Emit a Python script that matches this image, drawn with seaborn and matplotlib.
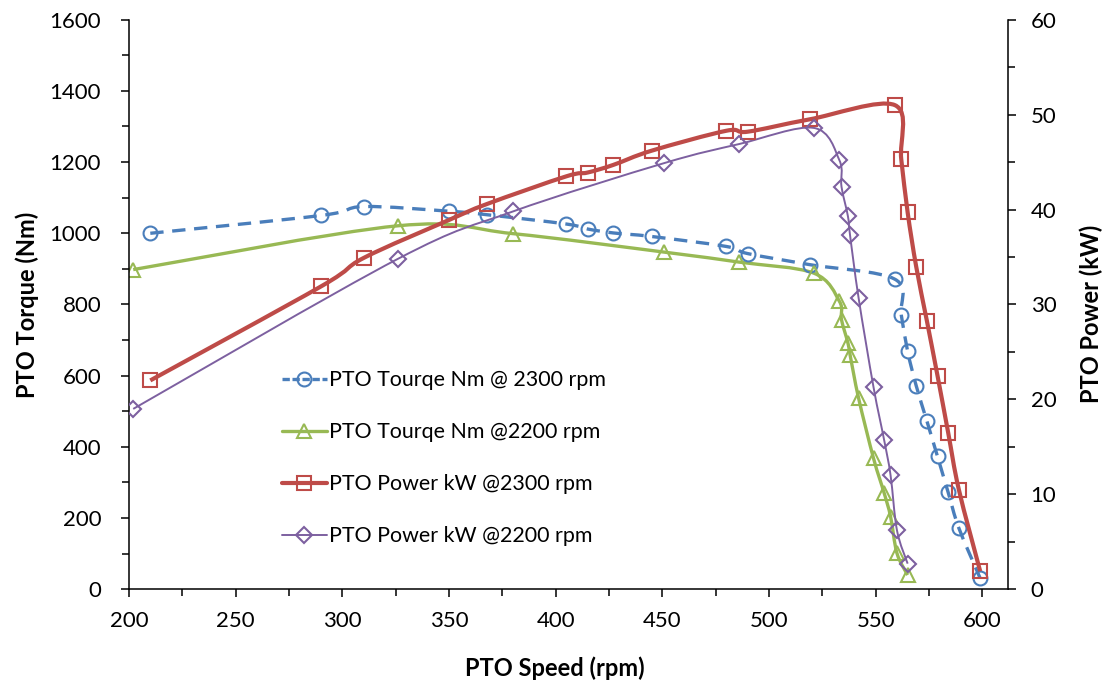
import numpy as np
import pandas as pd
import matplotlib
matplotlib.use("Agg")
import matplotlib.pyplot as plt
import seaborn as sns
from matplotlib.path import Path
from matplotlib.patches import PathPatch
from matplotlib.lines import Line2D
from matplotlib.ticker import MultipleLocator

# ---------------- data ----------------
speed_2300 = [210, 290, 310, 350, 368, 405, 415, 427, 445, 480, 490, 519,
              559, 562, 565, 569, 574, 579, 584, 589, 599]
torque_2300 = [1000, 1050, 1075, 1062, 1052, 1026, 1012, 1001, 991, 963, 943, 912,
               871, 771, 668, 572, 473, 373, 272, 172, 31]
power_2300 = [22.0, 31.9, 34.9, 38.9, 40.6, 43.5, 43.9, 44.7, 46.2, 48.3, 48.2, 49.5,
              51.0, 45.3, 39.7, 34.0, 28.3, 22.5, 16.5, 10.5, 1.9]

speed_2200 = [202, 326, 380, 451, 486, 521, 533, 534, 537, 538, 542, 549,
              554, 557, 560, 565]
torque_2200 = [898, 1021, 999, 947, 919, 888, 809, 757, 692, 659, 537, 368,
               270, 204, 101, 40]
power_2200 = [19.0, 34.8, 39.8, 44.9, 46.9, 48.6, 45.2, 42.4, 39.3, 37.3, 30.7, 21.3,
              15.7, 12.0, 6.2, 2.7]

labels = ["PTO Tourqe Nm @ 2300 rpm", "PTO Tourqe Nm @2200 rpm",
          "PTO Power kW @2300 rpm", "PTO Power kW @2200 rpm"]
x_label = "PTO Speed (rpm)"
y_label_left = "PTO Torque (Nm)"
y_label_right = "PTO Power (kW)"

# ---------------- style ----------------
sns.set_theme(style="white")
plt.rcParams['font.family'] = ['Lato', 'DejaVu Sans']
FS_TICK = 16
FS_LEG = 15.4
FS_LAB = 17

blue = "#4A7EBB"
green = "#98B954"
red = "#BE4B48"
purple = "#7D60A0"

fig = plt.figure(figsize=(11.06, 6.86), dpi=100)
ax = fig.add_axes([0.1166, 0.141, 0.7951, 0.8303])
ax2 = ax.twinx()


def smooth_curve(axis, xs, ys, color, lw, dashes=None):
    pts = np.column_stack([xs, ys]).astype(float)
    n = len(pts)
    verts = [pts[0]]
    codes = [Path.MOVETO]
    for i in range(n - 1):
        p0 = pts[i - 1] if i > 0 else pts[i]
        p1 = pts[i]
        p2 = pts[i + 1]
        p3 = pts[i + 2] if i + 2 < n else pts[i + 1]
        c1 = p1 + (p2 - p0) / 6.0
        c2 = p2 - (p3 - p1) / 6.0
        verts += [c1, c2, p2]
        codes += [Path.CURVE4] * 3
    patch = PathPatch(Path(verts, codes), fill=False, edgecolor=color, lw=lw,
                      capstyle="butt", joinstyle="round")
    if dashes is not None:
        patch.set_linestyle((0, dashes))
    axis.add_patch(patch)


def markers(axis, xs, ys, marker, color, ms, mew):
    df = pd.DataFrame({"x": xs, "y": ys})
    sns.lineplot(data=df, x="x", y="y", ax=axis, marker=marker, linestyle="",
                 markersize=ms, markerfacecolor="none", markeredgecolor=color,
                 markeredgewidth=mew, sort=False, estimator=None, legend=False)


# torque (left axis)
smooth_curve(ax, speed_2300, torque_2300, blue, 2.4, dashes=(4, 2.6))
markers(ax, speed_2300, torque_2300, "o", blue, 10, 1.5)
smooth_curve(ax, speed_2200, torque_2200, green, 2.4)
markers(ax, speed_2200, torque_2200, "^", green, 10, 1.5)

# power (right axis)
smooth_curve(ax2, speed_2300, power_2300, red, 3.0)
markers(ax2, speed_2300, power_2300, "s", red, 10, 1.5)
smooth_curve(ax2, speed_2200, power_2200, purple, 1.4)
markers(ax2, speed_2200, power_2200, "D", purple, 8, 1.5)

# axes limits and ticks
ax.set_xlim(200, 612.2)
ax.set_ylim(0, 1600)
ax2.set_ylim(0, 60)
ax.xaxis.set_major_locator(MultipleLocator(50))
ax.xaxis.set_minor_locator(MultipleLocator(25))
ax.yaxis.set_major_locator(MultipleLocator(200))
ax.yaxis.set_minor_locator(MultipleLocator(100))
ax2.yaxis.set_major_locator(MultipleLocator(10))
ax2.yaxis.set_minor_locator(MultipleLocator(5))

for a in (ax, ax2):
    for s in a.spines.values():
        s.set_visible(False)
        s.set_color("black")
        s.set_linewidth(1.1)
    a.set_facecolor("none")
ax.spines["left"].set_visible(True)
ax.spines["bottom"].set_visible(True)
ax2.spines["right"].set_visible(True)

ax.tick_params(axis="x", which="both", direction="out", bottom=True, top=False,
               color="black", width=1.1, labelsize=FS_TICK, labelcolor="black")
ax.tick_params(axis="x", which="major", length=6, pad=10)
ax.tick_params(axis="x", which="minor", length=5)
ax.tick_params(axis="y", which="both", direction="out", left=True, right=False,
               color="black", width=1.1, labelsize=FS_TICK, labelcolor="black")
ax.tick_params(axis="y", which="major", length=6, pad=14)
ax.tick_params(axis="y", which="minor", length=5)
ax2.tick_params(axis="y", which="both", direction="out", right=True, left=False,
                color="black", width=1.1, labelsize=FS_TICK, labelcolor="black")
ax2.tick_params(axis="y", which="major", length=6, pad=10)
ax2.tick_params(axis="y", which="minor", length=5)

ax.set_xlabel(x_label, fontsize=FS_LAB, fontweight="bold", color="black")
ax.set_ylabel(y_label_left, fontsize=FS_LAB, fontweight="bold", color="black")
ax2.set_ylabel(y_label_right, fontsize=FS_LAB, fontweight="bold", color="black")
ax.xaxis.set_label_coords(0.484, -0.117)
ax.yaxis.set_label_coords(-0.102, 0.5)
ax2.yaxis.set_label_coords(1.081, 0.483)

# legend
handles = [
    Line2D([], [], color=blue, lw=2.4, ls=(0, (2.2, 0.8)), marker="o", ms=10,
           mfc="none", mec=blue, mew=1.5),
    Line2D([], [], color=green, lw=2.4, marker="^", ms=10, mfc="none", mec=green, mew=1.5),
    Line2D([], [], color=red, lw=3.0, marker="s", ms=10, mfc="none", mec=red, mew=1.5),
    Line2D([], [], color=purple, lw=1.4, marker="D", ms=8, mfc="none", mec=purple, mew=1.5),
]
leg = fig.legend(handles, labels, loc="upper left",
                 bbox_to_anchor=(282 / 1106, 1 - 370 / 686), frameon=False,
                 fontsize=FS_LEG, handlelength=2.1, handletextpad=0.1,
                 labelspacing=1.5, borderaxespad=0, borderpad=0)
for t in leg.get_texts():
    t.set_color("black")

fig.savefig("out.png", dpi=100)
